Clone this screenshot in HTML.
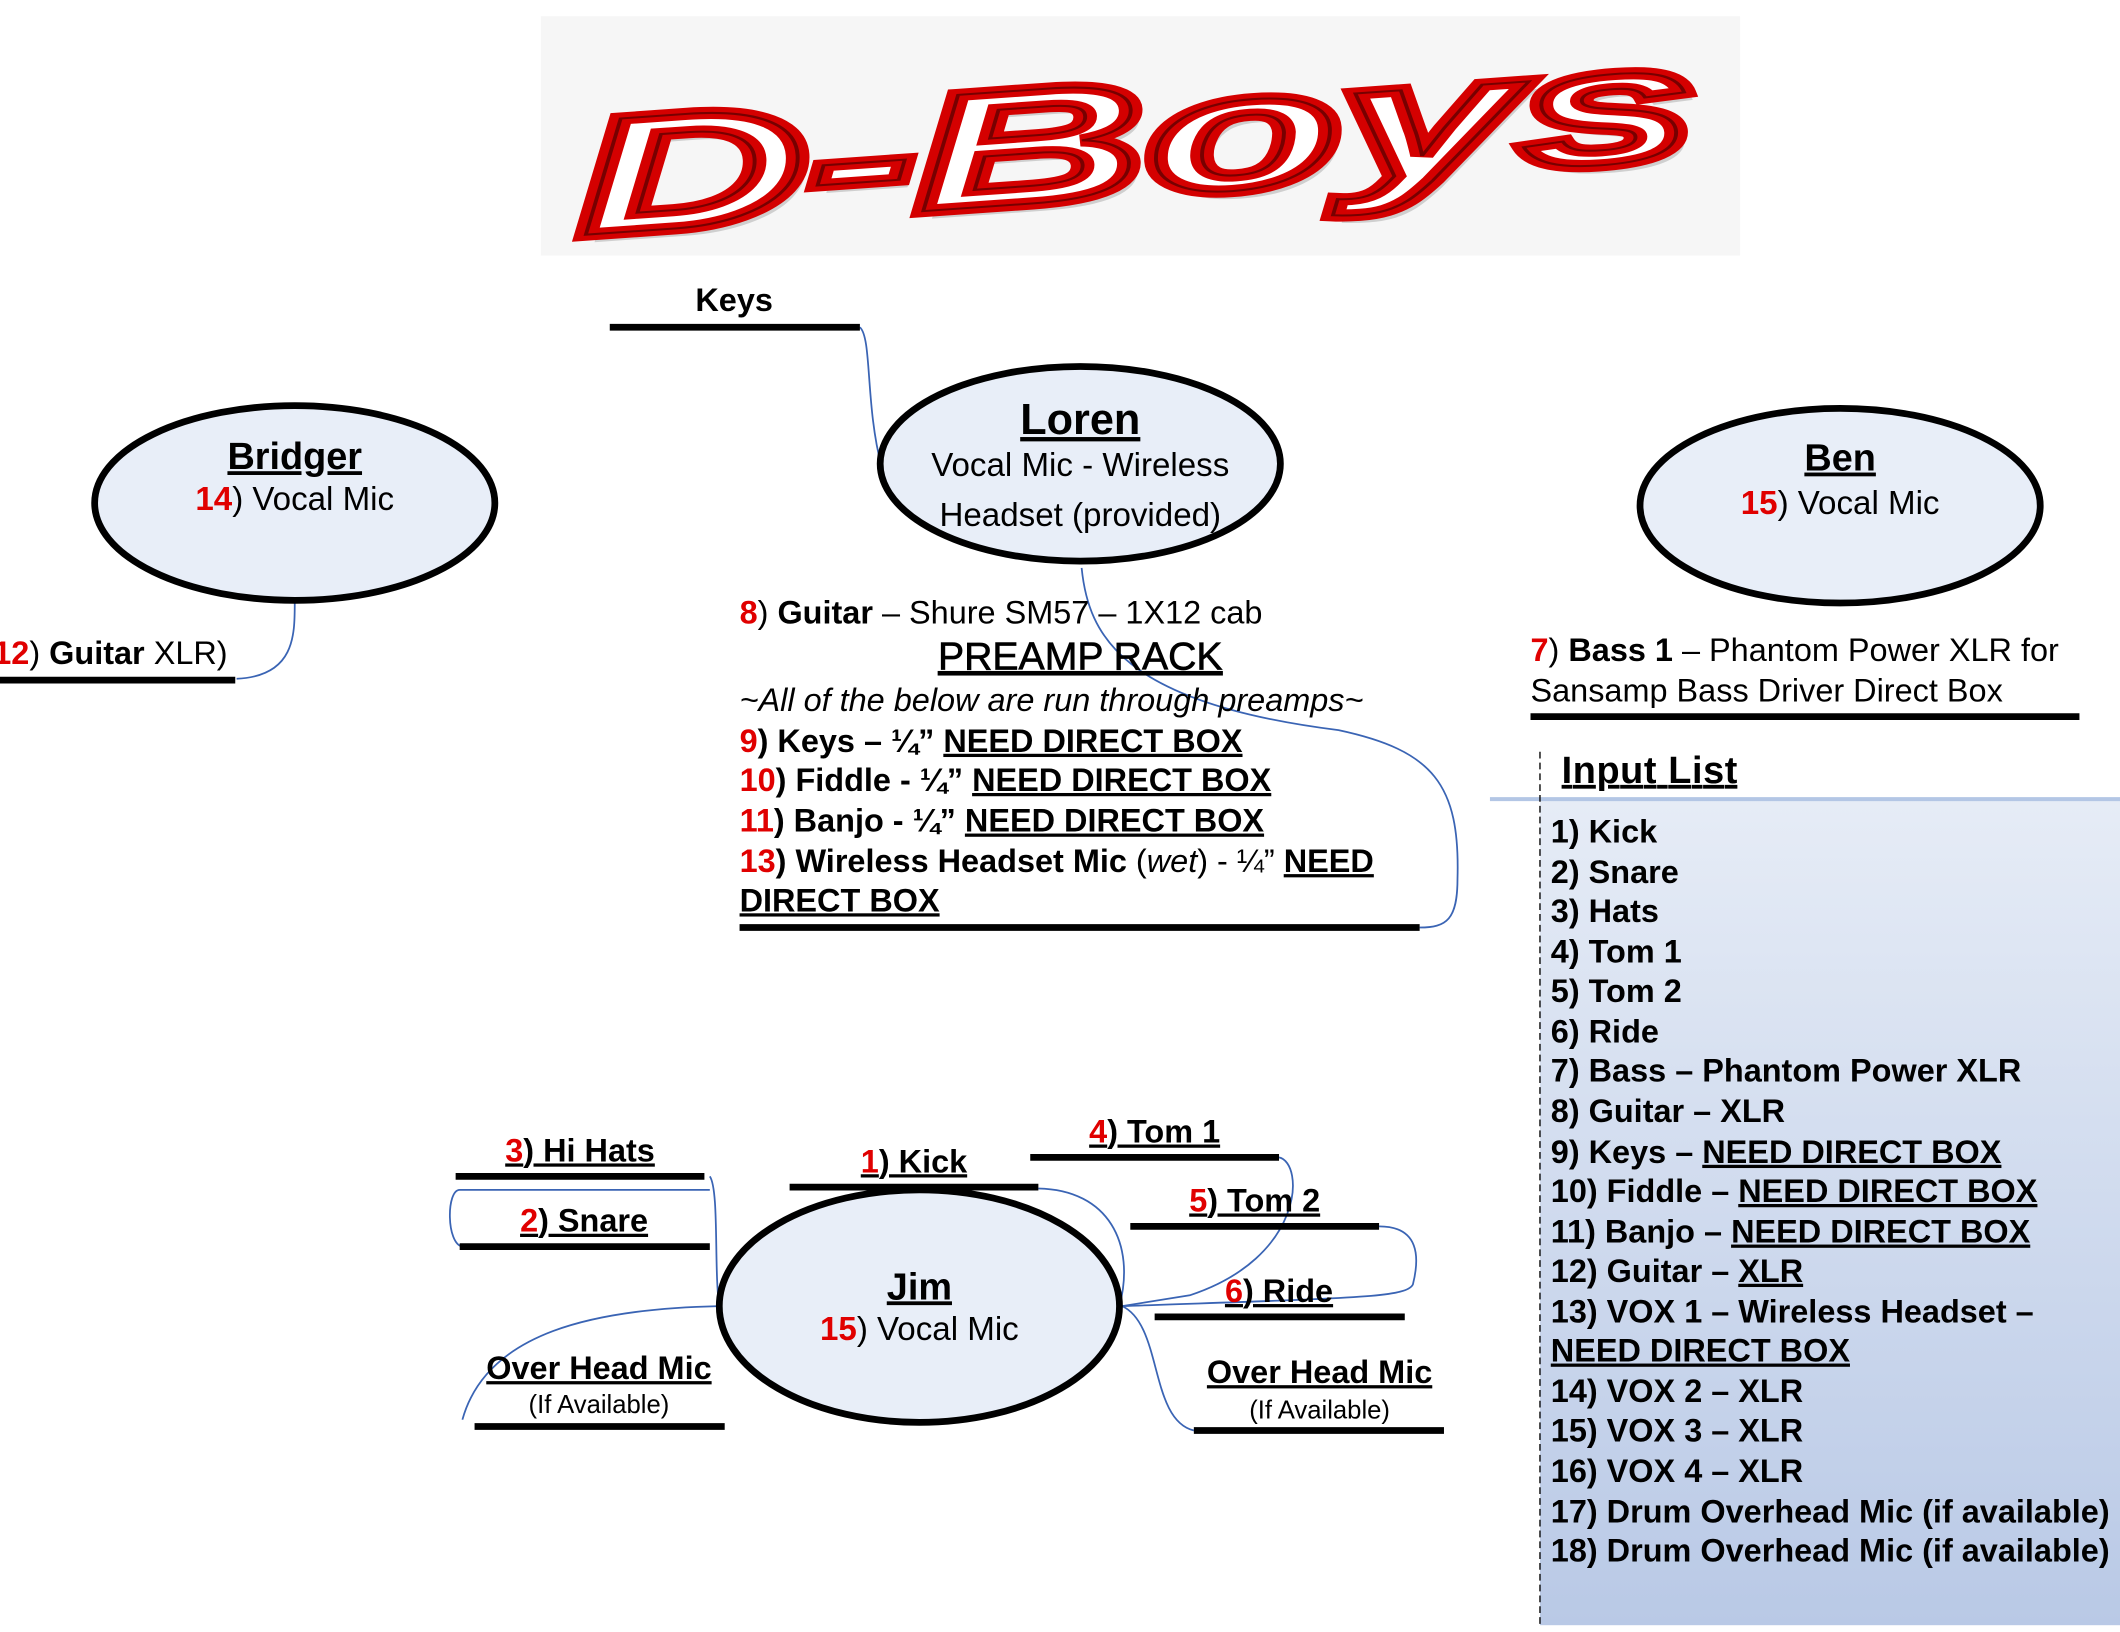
<!DOCTYPE html>
<html><head><meta charset="utf-8"><style>
html,body{margin:0;padding:0;background:#fff;}
svg{display:block;}
text{font-family:"Liberation Sans",Arial,sans-serif;}
</style></head><body>
<svg width="2120" height="1632" viewBox="0 0 1568 1207" xmlns="http://www.w3.org/2000/svg">
<defs>
<linearGradient id="pg" x1="0" y1="0" x2="0" y2="1">
<stop offset="0" stop-color="#e6ecf6"/><stop offset="1" stop-color="#b9c9e6"/>
</linearGradient>
</defs>
<!-- logo -->
<rect x="400" y="12" width="887" height="177" fill="#f6f6f6"/>
<g font-family="Liberation Serif,serif" font-weight="bold" font-style="italic" transform="rotate(-4 840 100)">
<text x="425" y="145" font-size="122" fill="#aaa" transform="translate(6,6)" opacity="0.5" textLength="830" lengthAdjust="spacingAndGlyphs">D-Boys</text>
<text x="425" y="145" font-size="122" fill="#fff" stroke="#d40000" stroke-width="9" textLength="830" lengthAdjust="spacingAndGlyphs">D-Boys</text>
<text x="425" y="145" font-size="122" fill="none" stroke="#3a0000" stroke-width="1.5" textLength="830" lengthAdjust="spacingAndGlyphs" opacity="0.6">D-Boys</text>
</g>

<!-- input list panel -->
<rect x="1139" y="590" width="429" height="612" fill="url(#pg)"/>
<line x1="1102" y1="591" x2="1568" y2="591" stroke="#b3c6e5" stroke-width="3"/>
<line x1="1139" y1="556" x2="1139" y2="1202" stroke="#000" stroke-width="1" stroke-dasharray="5,3"/>
<text x="1155" y="579" font-size="28" font-weight="bold" text-decoration="underline" textLength="130">Input List</text>
<g font-size="24" font-weight="bold">
<text x="1147" y="623">1) Kick</text>
<text x="1147" y="653">2) Snare</text>
<text x="1147" y="682">3) Hats</text>
<text x="1147" y="712">4) Tom 1</text>
<text x="1147" y="741">5) Tom 2</text>
<text x="1147" y="771">6) Ride</text>
<text x="1147" y="800">7) Bass – Phantom Power XLR</text>
<text x="1147" y="830">8) Guitar – XLR</text>
<text x="1147" y="860">9) Keys – <tspan text-decoration="underline">NEED DIRECT BOX</tspan></text>
<text x="1147" y="889">10) Fiddle – <tspan text-decoration="underline">NEED DIRECT BOX</tspan></text>
<text x="1147" y="919">11) Banjo – <tspan text-decoration="underline">NEED DIRECT BOX</tspan></text>
<text x="1147" y="948">12) Guitar – <tspan text-decoration="underline">XLR</tspan></text>
<text x="1147" y="978">13) VOX 1 – Wireless Headset –</text>
<text x="1147" y="1007" text-decoration="underline">NEED DIRECT BOX</text>
<text x="1147" y="1037">14) VOX 2 – XLR</text>
<text x="1147" y="1066">15) VOX 3 – XLR</text>
<text x="1147" y="1096">16) VOX 4 – XLR</text>
<text x="1147" y="1126">17) Drum Overhead Mic (if available)</text>
<text x="1147" y="1155">18) Drum Overhead Mic (if available)</text>
</g>

<!-- connectors -->
<g fill="none" stroke="#3a64b4" stroke-width="1.3">
<path d="M636 242 C645 250 640 300 652 345"/>
<path d="M800 420 C805 470 830 520 990 540 C1060 555 1080 580 1078 650 C1078 680 1070 686 1050 686"/>
<path d="M218 446 C218 470 218 500 175 502"/>
<path d="M525 870 C532 880 528 940 532 966"/>
<path d="M525 880 L340 880 C330 880 330 920 342 922"/>
<path d="M532 966 C440 968 360 985 342 1050"/>
<path d="M768 879 C820 880 840 920 828 966"/>
<path d="M946 856 C965 860 965 930 880 958 L830 966"/>
<path d="M1020 907 C1050 907 1050 930 1045 950 C1040 960 1000 960 830 966"/>
<path d="M830 966 C860 980 850 1050 883 1058"/>
</g>

<!-- ellipses -->
<g fill="#e8eef8" stroke="#000" stroke-width="5">
<ellipse cx="218" cy="372" rx="148" ry="72"/>
<ellipse cx="799" cy="343" rx="148" ry="72"/>
<ellipse cx="1361" cy="374" rx="148" ry="72"/>
<ellipse cx="680" cy="966" rx="148" ry="86"/>
</g>
<g text-anchor="middle" font-size="24.5">
<text x="218" y="347" font-size="28" font-weight="bold" text-decoration="underline">Bridger</text>
<text x="218" y="377"><tspan fill="#e00000" font-weight="bold">14</tspan>) Vocal Mic</text>
<text x="799" y="321" font-size="32" font-weight="bold" text-decoration="underline">Loren</text>
<text x="799" y="352">Vocal Mic - Wireless</text>
<text x="799" y="389">Headset (provided)</text>
<text x="1361" y="348" font-size="28" font-weight="bold" text-decoration="underline">Ben</text>
<text x="1361" y="380"><tspan fill="#e00000" font-weight="bold">15</tspan>) Vocal Mic</text>
<text x="680" y="961" font-size="28" font-weight="bold" text-decoration="underline">Jim</text>
<text x="680" y="991"><tspan fill="#e00000" font-weight="bold">15</tspan>) Vocal Mic</text>
</g>

<!-- black bars -->
<g stroke="#000" stroke-width="5">
<line x1="451" y1="242" x2="636" y2="242"/>
<line x1="0" y1="503" x2="174" y2="503"/>
<line x1="547" y1="686" x2="1050" y2="686"/>
<line x1="1132" y1="530" x2="1538" y2="530"/>
<line x1="337" y1="870" x2="521" y2="870"/>
<line x1="340" y1="922" x2="525" y2="922"/>
<line x1="584" y1="878" x2="768" y2="878"/>
<line x1="762" y1="856" x2="946" y2="856"/>
<line x1="836" y1="907" x2="1020" y2="907"/>
<line x1="854" y1="974" x2="1039" y2="974"/>
<line x1="351" y1="1055" x2="536" y2="1055"/>
<line x1="883" y1="1058" x2="1068" y2="1058"/>
</g>

<!-- labels -->
<g font-size="24">
<text x="543" y="230" text-anchor="middle" font-weight="bold">Keys</text>
<text x="-5" y="491"><tspan fill="#e00000" font-weight="bold">12</tspan>) <tspan font-weight="bold">Guitar</tspan> XLR)</text>
<text x="547" y="461"><tspan fill="#e00000" font-weight="bold">8</tspan>) <tspan font-weight="bold">Guitar</tspan> – Shure SM57 – 1X12 cab</text>
<text x="799" y="495" text-anchor="middle" font-size="29" text-decoration="underline" stroke="#000" stroke-width="0.5">PREAMP RACK</text>
<text x="547" y="526" font-style="italic">~All of the below are run through preamps~</text>
<g font-weight="bold">
<text x="547" y="556"><tspan fill="#e00000">9</tspan>) Keys – ¼” <tspan text-decoration="underline">NEED DIRECT BOX</tspan></text>
<text x="547" y="585"><tspan fill="#e00000">10</tspan>) Fiddle - ¼” <tspan text-decoration="underline">NEED DIRECT BOX</tspan></text>
<text x="547" y="615"><tspan fill="#e00000">11</tspan>) Banjo - ¼” <tspan text-decoration="underline">NEED DIRECT BOX</tspan></text>
<text x="547" y="645"><tspan fill="#e00000">13</tspan>) Wireless Headset Mic <tspan font-weight="normal">(<tspan font-style="italic">wet</tspan>) - ¼”</tspan> <tspan text-decoration="underline">NEED</tspan></text>
<text x="547" y="674" text-decoration="underline">DIRECT BOX</text>
</g>
<text x="1132" y="489"><tspan fill="#e00000" font-weight="bold">7</tspan>) <tspan font-weight="bold">Bass 1</tspan> – Phantom Power XLR for</text>
<text x="1132" y="519">Sansamp Bass Driver Direct Box</text>
<g font-weight="bold" text-anchor="middle" text-decoration="underline">
<text x="429" y="859"><tspan fill="#e00000">3</tspan>) Hi Hats</text>
<text x="432" y="911"><tspan fill="#e00000">2</tspan>) Snare</text>
<text x="676" y="867"><tspan fill="#e00000">1</tspan>) Kick</text>
<text x="854" y="845"><tspan fill="#e00000">4</tspan>) Tom 1</text>
<text x="928" y="896"><tspan fill="#e00000">5</tspan>) Tom 2</text>
<text x="946" y="963"><tspan fill="#e00000">6</tspan>) Ride</text>
<text x="443" y="1020">Over Head Mic</text>
<text x="976" y="1023">Over Head Mic</text>
</g>
<text x="443" y="1045" text-anchor="middle" font-size="19">(If Available)</text>
<text x="976" y="1049" text-anchor="middle" font-size="19">(If Available)</text>
</g>
</svg>
</body></html>
